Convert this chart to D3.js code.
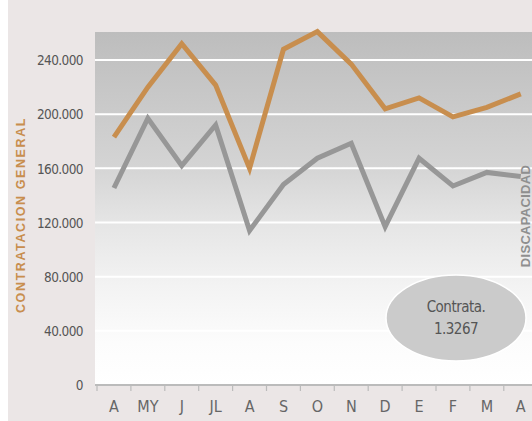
<!DOCTYPE html>
<html>
<head>
<meta charset="utf-8">
<script src="https://cdn.jsdelivr.net/npm/d3@7"></script>
<style>
  html, body { margin: 0; padding: 0; background: #fff; }
  svg { display: block; }
  .narrow { font-family: "DejaVu Sans", sans-serif; font-stretch: condensed; }
</style>
</head>
<body>
<div id="chart"></div>
<script>
(function () {
  let months = ['A', 'MY', 'J', 'JL', 'A ', 'S', 'O', 'N', 'D', 'E', 'F', 'M', 'A  '];
  let monthLabels = ['A', 'MY', 'J', 'JL', 'A', 'S', 'O', 'N', 'D', 'E', 'F', 'M', 'A'];
  let general = [183000, 220000, 252000, 221500, 160000, 248000, 261000, 237000, 204000, 212000, 198000, 205000, 215000];
  let discapacidad = [145500, 197000, 162000, 192000, 114000, 148000, 167500, 178500, 117000, 167500, 147000, 157000, 154000];
  let yTicks = [0, 40000, 80000, 120000, 160000, 200000, 240000];
  let noteLines = ['Contrata.', '1.3267'];

  let W = 532, H = 421;
  let margin = { top: 32, left: 96, bottom: 36 };
  let plotRight = W;
  let height = H - margin.top - margin.bottom;

  let svg = d3.select('#chart').append('svg')
    .attr('width', W)
    .attr('height', H);

  svg.append('rect').attr('x', 0).attr('y', 0).attr('width', W).attr('height', H).attr('fill', '#fff');
  svg.append('rect').attr('x', 8).attr('y', 0).attr('width', W - 8).attr('height', H).attr('fill', '#ebe6e6');

  let defs = svg.append('defs');
  let grad = defs.append('linearGradient')
    .attr('id', 'bg').attr('x1', 0).attr('y1', 0).attr('x2', 0).attr('y2', 1);
  grad.append('stop').attr('offset', '0%').attr('stop-color', '#bdbdbd');
  grad.append('stop').attr('offset', '38%').attr('stop-color', '#d4d4d4');
  grad.append('stop').attr('offset', '55%').attr('stop-color', '#e6e6e6');
  grad.append('stop').attr('offset', '72%').attr('stop-color', '#f3f3f3');
  grad.append('stop').attr('offset', '88%').attr('stop-color', '#fcfcfc');
  grad.append('stop').attr('offset', '100%').attr('stop-color', '#ffffff');

  defs.append('clipPath').attr('id', 'plotclip')
    .append('rect').attr('x', margin.left - 1).attr('y', margin.top - 4)
    .attr('width', plotRight - margin.left + 1).attr('height', height + 4);

  let x = d3.scaleBand()
    .domain(months)
    .range([margin.left + 1, margin.left + 1 + 13 * 33.9]);

  let y = d3.scaleLinear()
    .domain([0, 260700])
    .range([margin.top + height, margin.top]);

  svg.append('rect')
    .attr('x', margin.left - 1)
    .attr('y', margin.top)
    .attr('width', plotRight - margin.left + 1)
    .attr('height', height)
    .attr('fill', 'url(#bg)');

  // grid
  svg.append('g')
    .selectAll('line')
    .data(yTicks.filter((d) => d > 0))
    .enter()
    .append('line')
    .attr('x1', margin.left - 1)
    .attr('x2', plotRight)
    .attr('y1', (d) => y(d))
    .attr('y2', (d) => y(d))
    .attr('stroke', '#fff')
    .attr('stroke-width', 2);

  // y axis labels
  let yAxis = svg.append('g')
    .attr('transform', `translate(${margin.left - 10}, 0)`)
    .call(d3.axisLeft(y).tickValues(yTicks).tickSize(0)
      .tickFormat((d) => d === 0 ? '0' : d3.format(',')(d).replace(/,/g, '.')));
  yAxis.select('.domain').remove();
  yAxis.selectAll('text')
    .attr('class', 'narrow')
    .attr('fill', '#555')
    .attr('font-size', 13.5)
    .attr('letter-spacing', -0.6)
    .attr('dy', '0.35em');

  // x axis
  let xAxis = svg.append('g')
    .attr('transform', `translate(0, ${y(0)})`)
    .call(d3.axisBottom(x).tickSize(0).tickFormat((d, i) => monthLabels[i]));
  xAxis.select('.domain').remove();
  xAxis.append('line')
    .attr('x1', margin.left - 1).attr('x2', plotRight)
    .attr('y1', 0).attr('y2', 0)
    .attr('stroke', '#bbb').attr('stroke-width', 2);
  xAxis.selectAll('.boundary')
    .data(months)
    .enter()
    .append('line')
    .attr('x1', (d) => x(d)).attr('x2', (d) => x(d))
    .attr('y1', 0).attr('y2', 6)
    .attr('stroke', '#bbb').attr('stroke-width', 1.2);
  xAxis.selectAll('.tick text')
    .attr('class', 'narrow')
    .attr('fill', '#666')
    .attr('font-size', 16)
    .attr('y', 16);

  // lines
  let line = d3.line()
    .x((d, i) => x(months[i]) + x.bandwidth() / 2)
    .y((d) => y(d));

  let lines = svg.append('g').attr('clip-path', 'url(#plotclip)');
  lines.append('path')
    .datum(discapacidad)
    .attr('d', line)
    .attr('fill', 'none')
    .attr('stroke', '#979797')
    .attr('stroke-width', 5)
    .attr('stroke-linejoin', 'miter');
  lines.append('path')
    .datum(general)
    .attr('d', line)
    .attr('fill', 'none')
    .attr('stroke', '#c88e4e')
    .attr('stroke-width', 5)
    .attr('stroke-linejoin', 'miter');

  // left title
  svg.append('text')
    .attr('transform', 'translate(25, 215) rotate(-90)')
    .attr('text-anchor', 'middle')
    .attr('font-family', 'Liberation Sans, Arial, sans-serif')
    .attr('font-weight', 'bold')
    .attr('font-size', 12.5)
    .attr('letter-spacing', 1.6)
    .attr('fill', '#c88e4e')
    .text('CONTRATACION  GENERAL');

  // right title
  svg.append('text')
    .attr('transform', 'translate(530, 216) rotate(-90)')
    .attr('text-anchor', 'middle')
    .attr('font-family', 'Liberation Sans, Arial, sans-serif')
    .attr('font-weight', 'bold')
    .attr('font-size', 13)
    .attr('letter-spacing', 0.3)
    .attr('fill', '#8f8f8f')
    .text('DISCAPACIDAD');

  // note ellipse
  let note = svg.append('g').attr('transform', 'translate(456, 318)');
  note.append('ellipse')
    .attr('rx', 70).attr('ry', 43)
    .attr('fill', '#cbcbcb')
    .attr('stroke', '#fff')
    .attr('stroke-width', 1.5);
  note.selectAll('text')
    .data(noteLines)
    .enter()
    .append('text')
    .attr('class', 'narrow')
    .attr('text-anchor', 'middle')
    .attr('y', (d, i) => -6 + i * 22)
    .attr('font-size', 15)
    .attr('letter-spacing', -0.5)
    .attr('fill', '#555')
    .text((d) => d);
})();
</script>
</body>
</html>
